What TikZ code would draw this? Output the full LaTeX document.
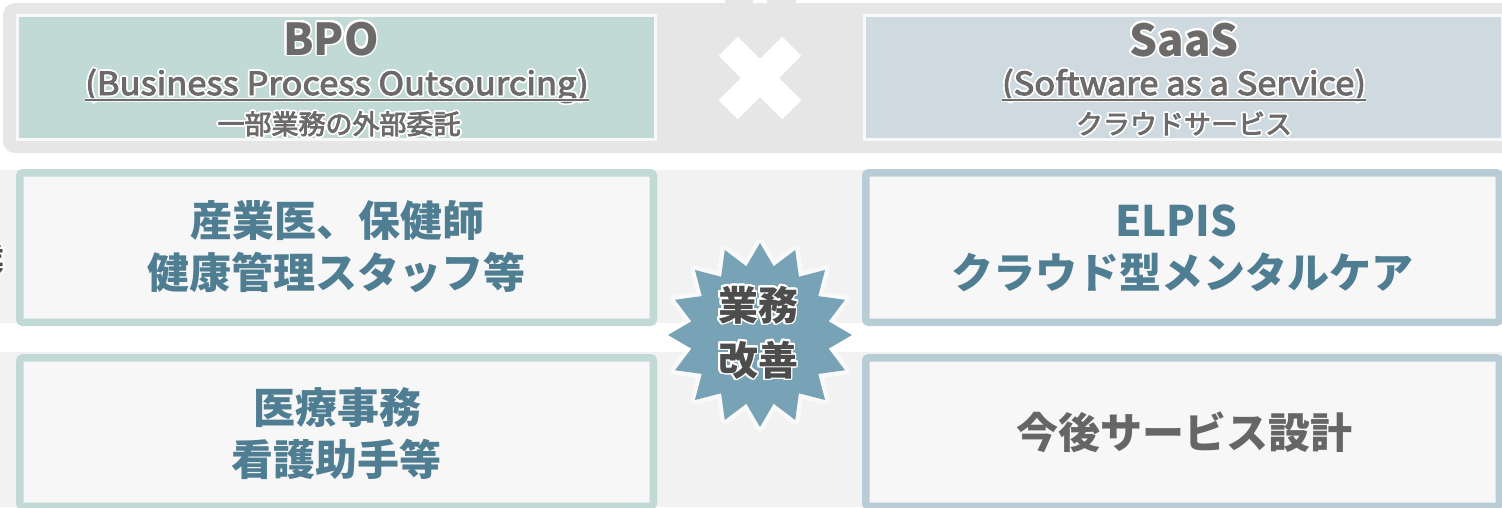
\documentclass[tikz,border=0pt]{standalone}
\usepackage{fontspec}
\setmainfont{Noto Sans CJK JP}
\newfontfamily\medfont{Noto Sans CJK JP}[FakeBold=3]
\newfontfamily\medwide{Noto Sans CJK JP}[FakeBold=3, FakeStretch=1.08]
\usepackage[copies]{contour}
\contourlength{1.6pt}
\contournumber{24}
\usetikzlibrary{calc}
\definecolor{panelgray}{HTML}{E6E6E6}
\definecolor{bandgray}{HTML}{F2F2F2}
\definecolor{boxfill}{HTML}{F7F7F7}
\definecolor{bpofill}{HTML}{C1DAD6}
\definecolor{saasfill}{HTML}{CED9E0}
\definecolor{bpoline}{HTML}{C1DAD6}
\definecolor{saasline}{HTML}{B7CCD5}
\definecolor{bursfill}{HTML}{78A2B5}
\definecolor{bluetxt}{HTML}{4F7D92}
\definecolor{graytxt}{HTML}{666666}
\definecolor{toptxt}{HTML}{6D6A6A}
\definecolor{darktxt}{HTML}{4D4D4D}
\begin{document}
\begin{tikzpicture}[x=1pt,y=-1pt,
  headbox/.style={inner sep=0pt, minimum width=635pt, minimum height=121pt,
    preaction={draw=white, line width=6pt, opacity=0.75}},
  lbox/.style={draw=bpoline, fill=boxfill, line width=7.5pt, rounded corners=3pt,
    inner sep=0pt, minimum width=633.5pt},
  rbox/.style={lbox, draw=saasline},
  boxtxt/.style={font=\bfseries\fontsize{42}{52}\selectfont, text=bluetxt, anchor=base, inner sep=0pt},
  toptitle/.style={font=\bfseries\fontsize{44}{50}\selectfont, text=toptxt, anchor=base, inner sep=0pt},
  topsub/.style={font=\medwide\fontsize{32}{36}\selectfont, text=toptxt, anchor=base, inner sep=0pt},
  topjp/.style={font=\medfont\fontsize{27}{32}\selectfont, text=toptxt, anchor=base, inner sep=0pt},
  bursttxt/.style={font=\bfseries\fontsize{40}{48}\selectfont, text=darktxt, anchor=base, inner sep=0pt},
  uline/.style={draw=toptxt, line width=1.8pt}
]
\useasboundingbox (0,0) rectangle (1502,507);
% top panel
\fill[panelgray, rounded corners=12pt] (3,3) rectangle (1540,153);
\fill[panelgray] (725,0) rectangle (753,5);
\fill[panelgray] (767,0) rectangle (796,5);
% row bands
\fill[bandgray] (0,170) rectangle (1502,323);
\fill[bandgray] (0,352) rectangle (1502,507);
% header boxes
\node[headbox, fill=bpofill] (bpo) at (336.5,77.5) {};
\node[headbox, fill=saasfill] (saas) at (1183,77.5) {};
% cross
\fill[white, rotate around={45:(760,78)}] (715,64.5) rectangle (805,91.5);
\fill[white, rotate around={-45:(760,78)}] (715,64.5) rectangle (805,91.5);
% row boxes
\node[lbox, minimum height=149.5pt] (r1l) at (336.5,247.5) {};
\node[rbox, minimum height=149.5pt] (r1r) at (1182.5,247.5) {};
\node[lbox, minimum height=148.5pt] (r2l) at (336.5,432) {};
\node[rbox, minimum height=148.5pt] (r2r) at (1182.5,432) {};
% partial character at the left edge
\node[font=\bfseries\fontsize{30}{36}\selectfont, text=darktxt, anchor=base east, inner sep=0pt] (cut) at (5,270) {\contour{white}{業}};
% header texts
\node[toptitle] (bpot) at (331,55) {\contour{white}{BPO}};
\node[topsub] (bpos) at (337,95) {\contour{white}{(Business Process Outsourcing)}};
\draw[white, line width=4pt, opacity=0.8] ([yshift=-5pt]bpos.base west) -- ([yshift=-5pt]bpos.base east);
\draw[uline] ([yshift=-5pt]bpos.base west) -- ([yshift=-5pt]bpos.base east);
\node[topjp] (bpoj) at (339,134) {\contour{white}{一部業務の外部委託}};
\node[toptitle] (saast) at (1184,56) {\contour{white}{SaaS}};
\node[topsub] (saass) at (1184,95) {\contour{white}{(Software as a Service)}};
\draw[white, line width=4pt, opacity=0.8] ([yshift=-5pt]saass.base west) -- ([yshift=-5pt]saass.base east);
\draw[uline] ([yshift=-5pt]saass.base west) -- ([yshift=-5pt]saass.base east);
\node[topjp] (saasj) at (1184,134) {\contour{white}{クラウドサービス}};
% box texts
\node[boxtxt] (l1a) at (337,236) {産業医、保健師};
\node[boxtxt] (l1b) at (336,288) {健康管理スタッフ等};
\node[boxtxt] (r1a) at (1176,236) {ELPIS};
\node[boxtxt] (r1b) at (1182,288) {クラウド型メンタルケア};
\node[boxtxt] (l2a) at (337,423) {医療事務};
\node[boxtxt] (l2b) at (336,475) {看護助手等};
\node[boxtxt, text=graytxt] (r2t) at (1184,448) {今後サービス設計};
% starburst
\draw[white, line width=9pt, opacity=0.55, line join=round]
  plot[samples at={0,...,31}] ({760+(mod(\x,2)==0 ? 92 : 70)*cos(90+\x*11.25)}, {335+(mod(\x,2)==0 ? 92 : 70)*sin(90+\x*11.25)}) -- cycle;
\fill[bursfill]
  plot[samples at={0,...,31}] ({760+(mod(\x,2)==0 ? 92 : 70)*cos(90+\x*11.25)}, {335+(mod(\x,2)==0 ? 92 : 70)*sin(90+\x*11.25)}) -- cycle;
\node[bursttxt] (b1) at (758,320) {\contour{white}{業務}};
\node[bursttxt] (b2) at (758,375) {\contour{white}{改善}};
\end{tikzpicture}
\end{document}
